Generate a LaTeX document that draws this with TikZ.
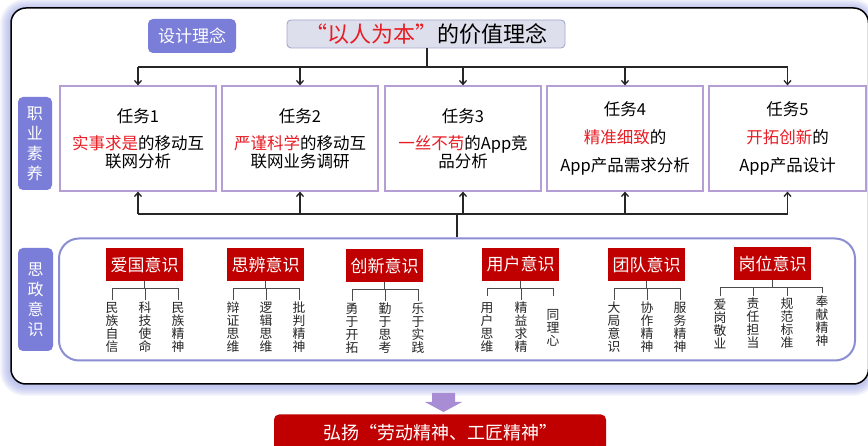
\documentclass[tikz,border=0pt]{standalone}
\usepackage{fontspec}
\setmainfont{Noto Sans CJK SC}
\usetikzlibrary{arrows.meta}
\definecolor{lblue}{RGB}{122,126,216}
\definecolor{tborder}{RGB}{180,158,212}
\definecolor{szborder}{RGB}{140,142,212}
\definecolor{hred}{RGB}{192,0,0}
\definecolor{tred}{RGB}{232,28,36}
\definecolor{greybox}{RGB}{221,224,236}
\definecolor{greyborder}{RGB}{165,168,205}
\definecolor{arrowfill}{RGB}{168,140,212}
\definecolor{glow}{RGB}{160,166,232}
\tikzset{
  lbl/.style={fill=lblue, text=white, rounded corners=5pt, inner sep=0pt},
  task/.style={draw=tborder, line width=1.2pt, fill=white, minimum width=156, minimum height=105, align=center, inner sep=0pt, font=\fontsize{16.5}{18}\selectfont},
  hdr/.style={fill=hred, text=white, minimum width=77, minimum height=33, inner sep=0pt, font=\fontsize{17}{17}\selectfont},
  sub/.style={align=center, inner sep=2pt, text=black!85, font=\fontsize{12.8}{13}\selectfont},
  conn/.style={line width=1.3pt, draw=black!85},
  arr/.style={conn, -{Straight Barb[length=4pt, width=7pt]}},
  brk/.style={line width=0.9pt, draw=black!70}
}
\begin{document}
\begin{tikzpicture}[x=1pt,y=-1pt]
\clip (0,0) rectangle (868,446);
\fill[white] (0,0) rectangle (868,446);
% glow around the frame
\foreach \i in {1,...,10}{
  \pgfmathsetmacro\rr{15+\i}
  \fill[glow, opacity=0.085, rounded corners=\rr pt] (11-\i-1,8-\i+1) rectangle (868+\i,384+\i+2);
}
% outer frame
\draw[line width=1.5pt, fill=white, rounded corners=15pt] (11,8) rectangle (868.5,384);

% top
\node[lbl, minimum width=88, minimum height=34, font=\fontsize{17}{17}\selectfont] (sj) at (192,36) {设计理念};
\node[draw=greyborder, fill=greybox, line width=0.9pt, rounded corners=4pt, minimum width=278, minimum height=28, inner sep=0pt, font=\fontsize{22}{22}\selectfont] (idea) at (426,34) {\textcolor{tred}{“以人为本”}的价值理念};

% side labels
\node[lbl, minimum width=34, minimum height=93, align=center, font=\fontsize{16}{20}\selectfont] (zy) at (35,143.5) {职\\业\\素\\养};
\node[lbl, minimum width=35, minimum height=103, align=center, font=\fontsize{16}{20}\selectfont] (szl) at (35.5,299.5) {思\\政\\意\\识};

% tasks
\node[task] (t1) at (138,138.5) {任务1\\[9pt]\textcolor{tred}{实事求是}的移动互\\联网分析};
\node[task] (t2) at (300,138.5) {任务2\\[9pt]\textcolor{tred}{严谨科学}的移动互\\联网业务调研};
\node[task] (t3) at (463,138.5) {任务3\\[9pt]\textcolor{tred}{一丝不苟}的App竞\\品分析};
\node[task] (t4) at (625,138.5) {任务4\\[10pt]\textcolor{tred}{精准细致}的\\[10pt]App产品需求分析};
\node[task, minimum width=157] (t5) at (787.5,138.5) {任务5\\[10pt]\textcolor{tred}{开拓创新}的\\[10pt]App产品设计};

% top connectors
\coordinate (top) at (427,67);
\draw[conn, line width=2pt] (idea.south -| top) -- (top);
\draw[conn] (t1.north |- top) -- (t5.north |- top);
\foreach \t in {t1,t2,t3,t4,t5}{ \draw[arr] (\t.north |- top) -- (\t.north); }

% region
\node[draw=szborder, line width=2pt, fill=white, rounded corners=20pt, minimum width=796, minimum height=122] (sz) at (457,299.5) {};

% bottom connectors
\coordinate (bot) at (457,214);
\draw[conn] (t1.south |- bot) -- (t5.south |- bot);
\foreach \t in {t1,t2,t3,t4,t5}{ \draw[arr] (\t.south |- bot) -- (\t.south); }
\draw[conn, line width=2.2pt] (sz.north) -- (bot);

% headers
\node[hdr] (h1) at (144.5,264.5) {爱国意识};
\node[hdr] (h2) at (265.5,264.5) {思辨意识};
\node[hdr] (h3) at (384.5,265.5) {创新意识};
\node[hdr] (h4) at (520.5,264.5) {用户意识};
\node[hdr] (h5) at (646.5,264.5) {团队意识};
\node[hdr] (h6) at (772.5,263.5) {岗位意识};

% children
\node[sub] (c11) at (112,327.5) {民\\族\\自\\信};
\node[sub] (c12) at (145,327.5) {科\\技\\使\\命};
\node[sub] (c13) at (178,327.5) {民\\族\\精\\神};
\node[sub] (c21) at (233,327.5) {辩\\证\\思\\维};
\node[sub] (c22) at (266,327.5) {逻\\辑\\思\\维};
\node[sub] (c23) at (299,327.5) {批\\判\\精\\神};
\node[sub] (c31) at (352,328.5) {勇\\于\\开\\拓};
\node[sub] (c32) at (385,328.5) {勤\\于\\思\\考};
\node[sub] (c33) at (418,328.5) {乐\\于\\实\\践};
\node[sub] (c41) at (487,327.5) {用\\户\\思\\维};
\node[sub] (c42) at (521,327.5) {精\\益\\求\\精};
\node[sub] (c43) at (553,327.5) {同\\理\\心};
\node[sub] (c51) at (614,327.5) {大\\局\\意\\识};
\node[sub] (c52) at (647,327.5) {协\\作\\精\\神};
\node[sub] (c53) at (680,327.5) {服\\务\\精\\神};
\node[sub] (c61) at (720,323.5) {爱\\岗\\敬\\业};
\node[sub] (c62) at (753,323.5) {责\\任\\担\\当};
\node[sub] (c63) at (787,323.5) {规\\范\\标\\准};
\node[sub] (c64) at (822,321) {奉\\献\\精\\神};

% brackets
\coordinate (b1) at (144.5,288);
\draw[brk] (h1.south) -- (b1);
\draw[brk] (c11.north) -- (c11.north |- b1) -- (c13.north |- b1) -- (c13.north);
\draw[brk] (c12.north) -- (c12.north |- b1);
\coordinate (b2) at (265.5,288);
\draw[brk] (h2.south) -- (b2);
\draw[brk] (c21.north) -- (c21.north |- b2) -- (c23.north |- b2) -- (c23.north);
\draw[brk] (c22.north) -- (c22.north |- b2);
\coordinate (b3) at (384.5,289);
\draw[brk] (h3.south) -- (b3);
\draw[brk] (c31.north) -- (c31.north |- b3) -- (c33.north |- b3) -- (c33.north);
\draw[brk] (c32.north) -- (c32.north |- b3);
\coordinate (b4) at (520.5,288);
\draw[brk] (h4.south) -- (b4);
\draw[brk] (c41.north |- 0,296) -- (c41.north |- b4) -- (c43.north |- b4) -- (c43.north |- 0,296);
\draw[brk] (c42.north) -- (c42.north |- b4);
\coordinate (b5) at (646.5,288);
\draw[brk] (h5.south) -- (b5);
\draw[brk] (c51.north) -- (c51.north |- b5) -- (c53.north |- b5) -- (c53.north);
\draw[brk] (c52.north) -- (c52.north |- b5);
\coordinate (b6) at (772.5,287);
\draw[brk] (h6.south) -- (b6);
\draw[brk] (c61.north) -- (c61.north |- b6) -- (c64.north |- b6) -- (c64.north);
\draw[brk] (c62.north) -- (c62.north |- b6);
\draw[brk] (c63.north) -- (c63.north |- b6);

% bottom arrow and banner
\fill[arrowfill] (432,393) -- (455,393) -- (455,402) -- (462,402) -- (443.5,412) -- (425,402) -- (432,402) -- cycle;
\node[fill=hred, rounded corners=5pt, minimum width=332, minimum height=36, inner sep=0pt, text=white, font=\fontsize{18}{18}\selectfont] (hy) at (440,432.5) {弘扬“劳动精神、工匠精神”};
\end{tikzpicture}
\end{document}
